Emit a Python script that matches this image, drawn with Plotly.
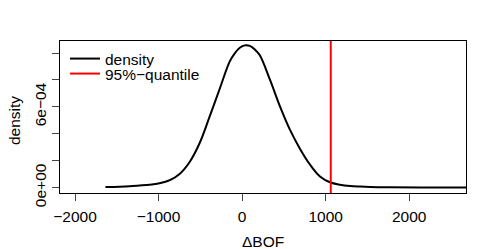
import plotly.graph_objects as go

# Density curve (x = ΔBOF, y = density)
bof_x = [-1636, -1468, -1348, -1228, -1108, -988, -868, -748, -628, -508, -388, -268, -148,
         -88, -28, 32, 92, 152, 212, 332, 452, 572, 692, 812, 932, 1052, 1172, 1292, 1412,
         1532, 1772, 2132, 2732]
density_y = [0.0000052, 0.0000075, 0.0000104, 0.0000157, 0.0000216, 0.0000328, 0.0000552,
             0.000102, 0.000191, 0.000332, 0.000530, 0.000735, 0.000938,
             0.000998, 0.001039, 0.001057, 0.001053, 0.001027, 0.000983, 0.000804,
             0.000606, 0.000431, 0.000290, 0.000172, 0.0000836, 0.0000403, 0.0000224,
             0.0000127, 0.0000082, 0.0000052, 0.000003, 0.000002, 0.000002]

quantile_95 = 1061

x_tickvals = [-2000, -1000, 0, 1000, 2000]
x_ticktext = ["\u22122000", "\u22121000", "0", "1000", "2000"]
y_tickvals = [0, 0.0002, 0.0004, 0.0006, 0.0008, 0.001]
y_ticktext = ["0e+00", "", "", "6e\u221204", "", ""]

x_range = [-2180, 2680]
y_range = [-0.0000396, 0.0010896]

FONT = "Liberation Sans, Arial, Helvetica, sans-serif"
FS = 15.5

# the page body has an 8px margin, so the figure is offset by 8px
W, H = 490, 241
L, R, T, B = 52, 32, 33, 56
PW, PH = W - L - R, H - T - B
OFF = 8
PLOT_BOTTOM = OFF + T + PH  # page y of plot bottom (193)
PLOT_LEFT = OFF + L         # page x of plot left (60)

fig = go.Figure()
fig.add_trace(go.Scatter(x=bof_x, y=density_y, mode="lines", name="density",
                         legend="legend",
                         line=dict(color="black", width=2, shape="spline", smoothing=1.0)))
fig.add_trace(go.Scatter(x=[quantile_95, quantile_95], y=[-1, 1], mode="lines",
                         name="95%\u2212quantile", legend="legend2",
                         line=dict(color="#ff0000", width=2)))

leg_common = dict(xanchor="left", yanchor="middle", bgcolor="rgba(0,0,0,0)",
                  borderwidth=0, font=dict(family=FONT, size=FS))
fig.update_layout(
    width=W, height=H,
    margin=dict(l=L, r=R, t=T, b=B, autoexpand=False),
    paper_bgcolor="white", plot_bgcolor="white",
    font=dict(family=FONT, size=FS, color="black"),
    showlegend=True,
    legend=dict(x=5 / PW, y=(PLOT_BOTTOM - 59) / PH, **leg_common),
    legend2=dict(x=5 / PW, y=(PLOT_BOTTOM - 74) / PH, **leg_common),
)
fig.update_xaxes(range=x_range, tickvals=x_tickvals, ticktext=x_ticktext,
                 showgrid=False, zeroline=False, showline=True, mirror=True,
                 linecolor="black", linewidth=1, ticks="outside", ticklen=7,
                 tickcolor="#444", tickwidth=1, title=None, automargin=False,
                 ticklabelstandoff=2)
fig.update_yaxes(range=y_range, tickvals=y_tickvals, ticktext=y_ticktext,
                 showgrid=False, zeroline=False, showline=True, mirror=True,
                 linecolor="black", linewidth=1, ticks="outside", ticklen=7,
                 tickcolor="#444", tickwidth=1, tickangle=-90, title=None,
                 automargin=False)

fig.add_annotation(text="\u0394BOF", xref="paper", yref="paper", x=0.5,
                   y=-(241.7 - PLOT_BOTTOM) / PH,
                   xanchor="center", yanchor="middle", showarrow=False,
                   font=dict(family=FONT, size=FS))
fig.add_annotation(text="density", xref="paper", yref="paper", x=-(PLOT_LEFT - 14) / PW,
                   y=(PLOT_BOTTOM - 121) / PH, xanchor="center", yanchor="middle",
                   textangle=-90, showarrow=False, font=dict(family=FONT, size=FS))

fig.write_html("out.html")
